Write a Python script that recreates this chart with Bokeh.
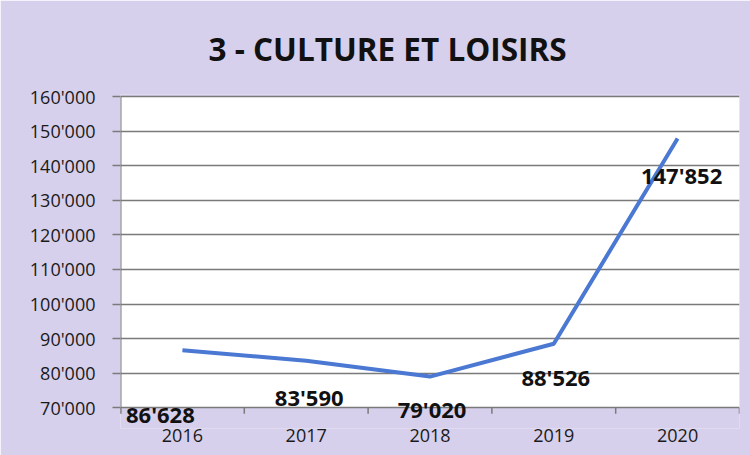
from bokeh.plotting import figure
from bokeh.models import ColumnDataSource, FactorRange, Range1d, FixedTicker, CustomJSTickFormatter
from bokeh.core.properties import value
from bokeh.embed import file_html
from bokeh.resources import INLINE

# ---- data ----
years = ["2016", "2017", "2018", "2019", "2020"]
amounts = [86628, 83590, 79020, 88526, 147852]
value_labels = ["86'628", "83'590", "79'020", "88'526", "147'852"]
y_ticks = [70000, 80000, 90000, 100000, 110000, 120000, 130000, 140000, 150000, 160000]
title_text = "3 - CULTURE ET LOISIRS"
y_min, y_max = 70000, 160000

# ---- styles ----
BG = "#d7d0ec"
LINE = "#4a78d2"
GRID = "#7a7a7a"
label_dx = [-22, 3, 2, 2, 4]
label_dy = [64, 36, 32, 33, 36]
FIG_W, FIG_H = 750, 455
BORDER_L, BORDER_R, BORDER_T, BORDER_B = 120, 11, 94, 27
# extra room below the value axis so that the data labels under it are not clipped
room_below = 6000
room_above = 600
tick_px = 6

frame_h = FIG_H - BORDER_T - BORDER_B
units_per_px = (y_max + room_above - (y_min - room_below)) / frame_h
tick_len = tick_px * units_per_px

src = ColumnDataSource(dict(x=years, y=amounts, lab=value_labels, dx=label_dx, dy=label_dy))

p = figure(width=FIG_W, height=FIG_H, output_backend="svg", toolbar_location=None,
           x_range=FactorRange(*years, range_padding=0),
           y_range=Range1d(y_min - room_below, y_max + room_above),
           min_border_left=BORDER_L, min_border_right=BORDER_R,
           min_border_top=BORDER_T, min_border_bottom=BORDER_B,
           title=title_text)

p.background_fill_color = BG
p.border_fill_color = BG
p.outline_line_color = None

p.title.align = "left"
p.title.offset = 88
p.title.text_font = "Open Sans"
p.title.text_font_style = "bold"
p.title.text_font_size = "31.5px"
p.title.text_color = "#111111"
p.title.standoff = 49

# white plot area spanning all categories, between the value-axis limits
n = len(years)
p.quad(left=[0], right=[n], bottom=[y_min], top=[y_max],
       fill_color="white", line_color=None, level="image")

# y axis
p.yaxis.ticker = FixedTicker(ticks=y_ticks)
p.yaxis.formatter = CustomJSTickFormatter(code="""
const s = Math.round(tick).toString();
return s.replace(/\\B(?=(\\d{3})+(?!\\d))/g, "'");
""")
p.yaxis.major_label_text_font = "Open Sans"
p.yaxis.major_label_text_font_size = "18px"
p.yaxis.major_label_text_color = "#1a1a1a"
p.yaxis.major_label_standoff = 17
p.yaxis.major_tick_out = 8
p.yaxis.major_tick_in = 0
p.yaxis.minor_tick_line_color = None
p.yaxis.axis_line_color = None
p.yaxis.major_tick_line_color = GRID
p.yaxis.major_tick_line_width = 1.5

# x axis (labels only; the axis line is the 70'000 grid line)
p.xaxis.major_label_text_font = "Open Sans"
p.xaxis.major_label_text_font_size = "18px"
p.xaxis.major_label_text_color = "#1a1a1a"
p.xaxis.major_label_standoff = 0
p.xaxis.major_tick_out = 0
p.xaxis.major_tick_in = 0
p.xaxis.axis_line_color = None
p.xaxis.major_tick_line_color = None

p.xgrid.grid_line_color = None
p.ygrid.grid_line_color = GRID
p.ygrid.grid_line_width = 1.5

# category boundary ticks below the 70'000 line, and the vertical value axis line
bounds = list(range(n + 1))
p.segment(x0=bounds, y0=[y_min] * len(bounds), x1=bounds, y1=[y_min - tick_len] * len(bounds),
          line_color=GRID, line_width=1.5)
p.segment(x0=[0], y0=[y_min - tick_len], x1=[0], y1=[y_max], line_color=GRID, line_width=2)

p.line("x", "y", source=src, line_color=LINE, line_width=4)

p.text("x", "y", text="lab", source=src, x_offset="dx", y_offset="dy",
       text_align="center", text_baseline="middle",
       text_font=value("Open Sans"), text_font_style="bold",
       text_font_size="22px", text_color="#111111")

open("out.html", "w").write(file_html(p, INLINE))
